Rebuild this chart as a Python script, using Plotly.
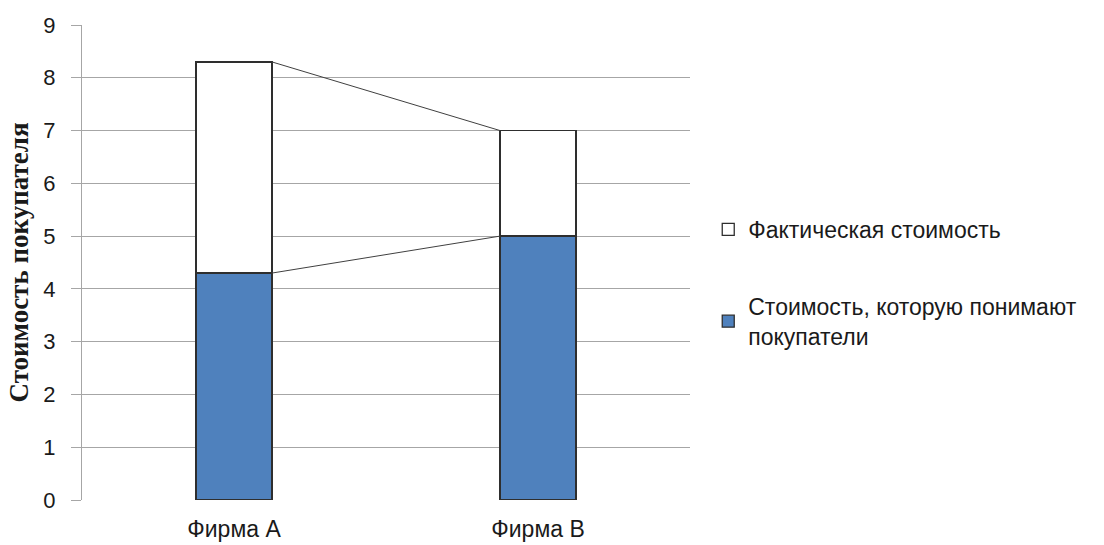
import plotly.graph_objects as go

# Data
firms = ["Фирма A", "Фирма B"]
perceived = [4.3, 5.0]       # value as customers perceive it
actual_extra = [4.0, 2.0]    # remaining part up to the actual value
y_ticks = [0, 1, 2, 3, 4, 5, 6, 7, 8, 9]

series_perceived = "Стоимость, которую понимают<br>покупатели"
series_actual = "Фактическая стоимость"
y_title = "Стоимость покупателя"

BLUE = "#4F81BD"
OUTLINE = "#2E2E2E"
GRID = "#A6A6A6"
TEXT = "#1a1a1a"
BAR_W = 0.25

xpos = list(range(len(firms)))
totals = [p + a for p, a in zip(perceived, actual_extra)]

fig = go.Figure()
fig.add_trace(go.Bar(
    x=xpos, y=perceived, name=series_perceived, width=BAR_W,
    marker=dict(color=BLUE, line=dict(color=OUTLINE, width=1.3)),
    legendgroup="p", legendrank=2,
))
fig.add_trace(go.Bar(
    x=xpos, y=actual_extra, name=series_actual, width=BAR_W,
    marker=dict(color="white", line=dict(color=OUTLINE, width=1.3)),
    legendgroup="a", legendrank=1,
))

# Series lines joining the segment tops of neighbouring bars
for tops in (perceived, totals):
    fig.add_trace(go.Scatter(
        x=[xpos[0] + BAR_W / 2, xpos[1] - BAR_W / 2],
        y=[tops[0], tops[1]],
        mode="lines", line=dict(color="#404040", width=1),
        showlegend=False, hoverinfo="skip",
    ))

fig.update_layout(
    width=1104, height=545,
    barmode="stack",
    paper_bgcolor="white", plot_bgcolor="white",
    margin=dict(l=82, r=414, t=25, b=45),
    font=dict(family="Liberation Sans, Arial, sans-serif", size=23, color=TEXT),
    showlegend=True,
    legend=dict(
        x=1.03, xanchor="left", y=0.615, yanchor="top",
        traceorder="grouped", tracegroupgap=44,
        font=dict(size=23), itemwidth=30,
        bgcolor="rgba(0,0,0,0)",
    ),
)
fig.update_xaxes(
    range=[-0.5, 1.5], tickvals=xpos, ticktext=firms,
    showgrid=False, showline=False, zeroline=False, ticks="",
    tickfont=dict(size=23), ticklabelstandoff=13, automargin=False,
)
fig.update_yaxes(
    range=[0, 9], tickvals=y_ticks,
    showgrid=True, gridcolor=GRID, gridwidth=1.3,
    showline=True, linecolor=GRID, linewidth=1.3,
    ticks="outside", ticklen=10, tickcolor=GRID, tickwidth=1.3,
    zeroline=False, tickfont=dict(size=22), ticklabelstandoff=11,
    automargin=False,
    title=dict(text=y_title, font=dict(family="Liberation Serif, Times New Roman, serif",
                                         size=27, color=TEXT, weight="bold"),
               standoff=6),
)

fig.write_html("out.html")
